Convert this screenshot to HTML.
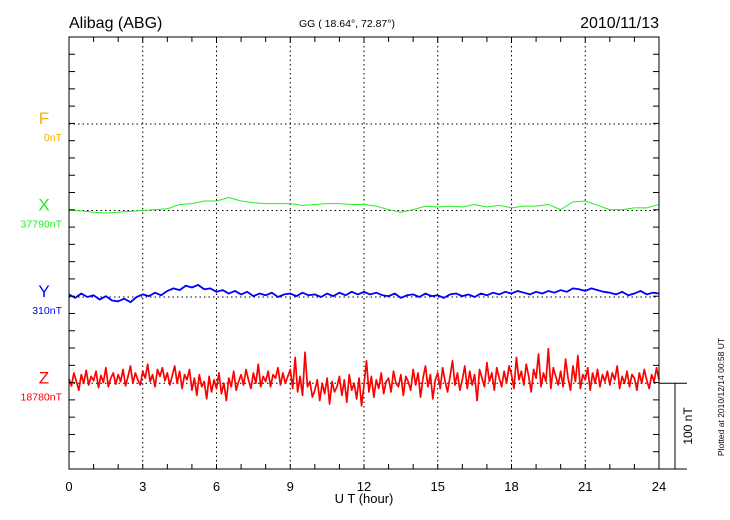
<!DOCTYPE html>
<html><head><meta charset="utf-8"><style>
body{margin:0;background:#fff;}
svg{display:block;font-family:"Liberation Sans",sans-serif;}
</style></head><body>
<svg id="chart" width="730" height="520" viewBox="0 0 730 520">
<text x="69" y="28" font-size="16">Alibag (ABG)</text>
<text x="347" y="27" font-size="10.5" text-anchor="middle">GG ( 18.64°,  72.87°)</text>
<text x="659" y="28" font-size="16" text-anchor="end">2010/11/13</text>
<g id="grid"></g>
<g id="series"></g>
<g id="axes"></g>
<g id="labels"></g>
<text x="364" y="503" font-size="13" text-anchor="middle">U T (hour)</text>
<text transform="translate(692,426) rotate(-90)" font-size="12" text-anchor="middle">100 nT</text>
<text transform="translate(724,397) rotate(-90)" font-size="8.5" text-anchor="middle">Plotted at 2010/12/14 00:58 UT</text>
</svg>
<script>
const xTicks = [0,3,6,9,12,15,18,21,24];
const components = ["F","X","Y","Z"];
const baseLabels = ["0nT","37790nT","310nT","18780nT"];
const compColors = ["#f5b000","#22ee22","#0000ff","#ff0000"];
const xValues = [0,-0.5,-2,-3,-2,-1,0,1,2,7,8,11,11,15,11,9,8,8,8,6,7,8,8,7,7,5,1,-2,1,5,4,5,4,7,4,6,3,5,5,7,1,10,11,6,1,1,3,3,7];
const yValues = [3,-1,4,0,2,-3,1,-4,-5,-2,-6,0,3,1,5,2,7,10,8,13,11,14,9,10,6,8,4,7,3,6,1,4,2,5,0,3,4,1,5,2,3,0,4,1,5,2,6,3,6,3,5,2,1,4,-1,2,3,0,4,1,2,-1,3,4,1,3,0,4,2,5,3,6,4,7,5,3,6,4,7,5,8,6,10,9,7,10,8,6,5,3,6,2,4,7,3,5,4];
const zValues = [5,-3,12,2,-8,10,0,15,-2,8,3,14,-5,9,1,18,-4,6,12,-1,10,2,16,-3,8,20,0,12,4,-2,14,6,22,2,10,-4,16,8,18,3,12,-2,9,20,0,14,-6,10,4,16,-8,6,-14,10,-4,2,-18,8,-10,4,-6,12,-12,0,-20,6,-4,14,-8,2,10,-2,16,4,-6,12,0,22,-4,8,2,14,-4,10,6,18,-2,12,0,8,16,-6,30,-10,8,-14,36,-4,2,-16,-8,4,-20,0,-12,6,-24,2,-10,-4,8,-14,4,-22,10,-8,0,-18,6,-26,-2,26,-10,8,-16,4,-6,12,-12,2,6,-10,14,0,-4,10,-14,8,2,-8,16,-2,12,-16,6,20,-4,10,-18,4,12,-6,18,2,-10,8,26,-2,12,-8,4,20,-6,14,-2,10,-20,16,6,-4,24,2,12,-8,18,6,-4,14,0,20,10,-6,30,4,14,-2,22,8,-10,16,6,34,-4,12,2,40,-6,18,8,-2,14,-4,28,6,-8,20,2,32,-6,10,4,18,-8,12,0,16,-4,10,2,14,-2,12,4,20,-6,8,0,14,-4,10,6,-8,12,0,16,4,-6,10,2,18,4];

const NS="http://www.w3.org/2000/svg";
const L=69,R=659,T=37,B=469;
const pxPerNT=86.4/100;
const baseY=[124,210.5,297,383.3];
function xs(h){return L+(R-L)*h/24;}
function ys(i,v){return baseY[i]-v*pxPerNT;}
function mk(tag,parent,attrs){const e=document.createElementNS(NS,tag);for(const k in attrs)e.setAttribute(k,attrs[k]);parent.appendChild(e);return e;}
const grid=document.getElementById('grid'),axes=document.getElementById('axes'),series=document.getElementById('series'),labels=document.getElementById('labels');

xTicks.forEach(t=>{
  if(t>0&&t<24){const g=mk('line',grid,{x1:xs(t),x2:xs(t),y1:T,y2:B,stroke:'#000','stroke-width':1,'stroke-dasharray':'1.5,3'});
  
  }
  const tx=mk('text',labels,{x:xs(t),y:491,'font-size':13,'text-anchor':'middle'});
  tx.textContent=t;
  
  
});
baseY.forEach((y,i)=>{
  const g=mk('line',grid,{x1:L,x2:R,y1:y,y2:y,stroke:'#000','stroke-width':1,'stroke-dasharray':'1.5,3'});
  
  
});
for(let h=1;h<24;h++){
  mk('line',axes,{x1:xs(h),x2:xs(h),y1:B,y2:B-5,stroke:'#000'});
  mk('line',axes,{x1:xs(h),x2:xs(h),y1:T,y2:T+5,stroke:'#000'});
}
for(let k=1;k<25;k++){
  const y=T+k*17.28;
  mk('line',axes,{x1:L,x2:L+6,y1:y,y2:y,stroke:'#000'});
  mk('line',axes,{x1:R,x2:R-6,y1:y,y2:y,stroke:'#000'});
}
const frame=mk('rect',axes,{x:L,y:T,width:R-L,height:B-T,fill:'none',stroke:'#000','stroke-width':1});


mk('line',axes,{x1:R,x2:687,y1:B,y2:B,stroke:'#000'});
mk('line',axes,{x1:R,x2:687,y1:baseY[3],y2:baseY[3],stroke:'#000'});
const sb=mk('line',axes,{x1:675,x2:675,y1:baseY[3],y2:B,stroke:'#000'});



function drawSeries(i,vals,name,w){
  const n=vals.length-1;
  const pts=vals.map((v,k)=>xs(24*k/n).toFixed(2)+','+ys(i,v).toFixed(2)).join(' ');
  const p=mk('polyline',series,{points:pts,fill:'none',stroke:compColors[i],'stroke-width':w,'stroke-linejoin':'round'});
  
  
}
drawSeries(1,xValues,'x-series-line',1);
drawSeries(2,yValues,'y-series-line',1.8);
drawSeries(3,zValues,'z-series-line',1.7);

components.forEach((c,i)=>{
  const t=mk('text',labels,{x:44,y:baseY[i],'font-size':17,'text-anchor':'middle',fill:compColors[i]});
  t.textContent=c;
  
  
  const b=mk('text',labels,{x:62,y:baseY[i]+17,'font-size':10.5,'text-anchor':'end',fill:compColors[i]});
  b.textContent=baseLabels[i];
  
  
});
</script>
</body></html>
